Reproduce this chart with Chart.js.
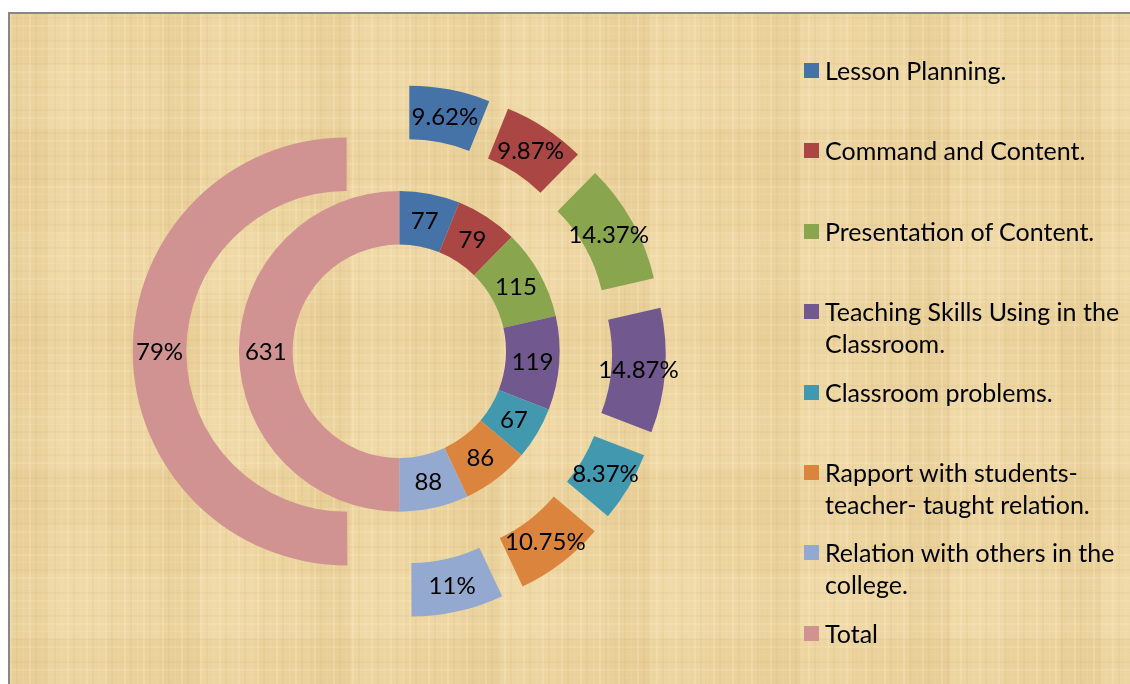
<!DOCTYPE html>
<html>
<head>
<meta charset="utf-8">
<script src="https://cdn.jsdelivr.net/npm/chart.js@4.4.1/dist/chart.umd.min.js"></script>
<style>
  html, body { margin:0; padding:0; width:1130px; height:684px; overflow:hidden; background:#ffffff; }
  #frame {
    position:absolute; left:8px; top:12px; width:1130px; height:680px;
    border-left:2px solid #878787; border-top:2px solid #878787;
    background-color:#ecd49f;
    background-image:
      repeating-linear-gradient(90deg, rgba(255,244,212,0.20) 0px 2px, rgba(0,0,0,0) 2px 6px, rgba(185,150,80,0.08) 6px 8px, rgba(0,0,0,0) 8px 13px, rgba(255,240,200,0.12) 13px 14px, rgba(0,0,0,0) 14px 19px),
      repeating-linear-gradient(0deg, rgba(255,244,212,0.15) 0px 2px, rgba(0,0,0,0) 2px 8px, rgba(185,150,80,0.07) 8px 10px, rgba(0,0,0,0) 10px 16px, rgba(255,240,200,0.10) 16px 17px, rgba(0,0,0,0) 17px 23px),
      repeating-linear-gradient(90deg, rgba(200,165,95,0.08) 0px 40px, rgba(255,240,205,0.10) 40px 95px, rgba(0,0,0,0) 95px 150px),
      repeating-linear-gradient(0deg, rgba(205,170,100,0.06) 0px 55px, rgba(255,242,210,0.09) 55px 120px, rgba(0,0,0,0) 120px 170px);
  }
  #c { position:absolute; left:0; top:0; }
  .item { position:absolute; left:804px; font-family:Lato, "Open Sans", sans-serif; font-size:25px; color:#000; }
  .mark { position:absolute; left:0; width:15px; height:15px; }
  .txt { position:absolute; left:21px; line-height:32px; white-space:pre; }
</style>
</head>
<body>
<div id="frame"></div>
<canvas id="c" width="1130" height="684"></canvas>
<div id="legend"></div>
<script>
// ---- data ----
const categories = [
  'Lesson Planning.',
  'Command and Content.',
  'Presentation of Content.',
  'Teaching Skills Using in the\nClassroom.',
  'Classroom problems.',
  'Rapport with students-\nteacher- taught relation.',
  'Relation with others in the\ncollege.',
  'Total'
];
const countValues   = [77, 79, 115, 119, 67, 86, 88, 631];
const percentValues = [9.62, 9.87, 14.37, 14.87, 8.37, 10.75, 11, 79];

// ---- styles ----
const colors = ['#4572A7', '#AA4643', '#89A54E', '#71588F', '#4198AF', '#DB843D', '#93A9CF', '#D19392'];
const FONT = '24px Lato, "Open Sans", sans-serif';
const EXPLODE = 52.6;

const explodePlugin = {
  id: 'explode',
  afterDatasetsUpdate(chart) {
    chart.data.datasets.forEach((ds, di) => {
      const dist = ds.explodeDistance || 0;
      if (!dist) return;
      chart.getDatasetMeta(di).data.forEach(arc => {
        const mid = (arc.startAngle + arc.endAngle) / 2;
        arc.x += Math.cos(mid) * dist;
        arc.y += Math.sin(mid) * dist;
      });
    });
  }
};

const labelPlugin = {
  id: 'sliceLabels',
  afterDatasetsDraw(chart) {
    const ctx = chart.ctx;
    ctx.save();
    ctx.font = FONT;
    ctx.fillStyle = '#000';
    ctx.textAlign = 'center';
    ctx.textBaseline = 'middle';
    chart.data.datasets.forEach((ds, di) => {
      chart.getDatasetMeta(di).data.forEach((arc, i) => {
        const mid = (arc.startAngle + arc.endAngle) / 2;
        const r = (arc.innerRadius + arc.outerRadius) / 2;
        ctx.fillText(ds.fmt(ds.data[i]), arc.x + Math.cos(mid) * r, arc.y + Math.sin(mid) * r + 1);
      });
    });
    ctx.restore();
  }
};

new Chart(document.getElementById('c'), {
  type: 'doughnut',
  data: {
    labels: categories.map(s => s.replace('\n', ' ')),
    datasets: [
      { data: percentValues, backgroundColor: colors, borderWidth: 0, hoverOffset: 0, clip: false,
        explodeDistance: EXPLODE, fmt: v => v + '%' },
      { data: countValues, backgroundColor: colors, borderWidth: 0, hoverOffset: 0, clip: false,
        fmt: v => String(v) }
    ]
  },
  options: {
    responsive: false,
    animation: false,
    radius: 214,
    cutout: '49.86%',
    layout: { padding: { left: 0, right: 331.4, top: 18.6, bottom: 0 } },
    events: [],
    plugins: { legend: { display: false }, tooltip: { enabled: false } }
  },
  plugins: [explodePlugin, labelPlugin]
});

// ---- legend (HTML) ----
const legend = document.getElementById('legend');
categories.forEach((name, i) => {
  const yc = 70 + 80.4 * i;
  const item = document.createElement('div');
  item.className = 'item';
  item.style.top = yc + 'px';
  const m = document.createElement('div');
  m.className = 'mark';
  m.style.background = colors[i];
  m.style.top = '-7px';
  const t = document.createElement('div');
  t.className = 'txt';
  t.style.top = '-16px';
  t.textContent = name;
  item.appendChild(m);
  item.appendChild(t);
  legend.appendChild(item);
});
</script>
</body>
</html>
